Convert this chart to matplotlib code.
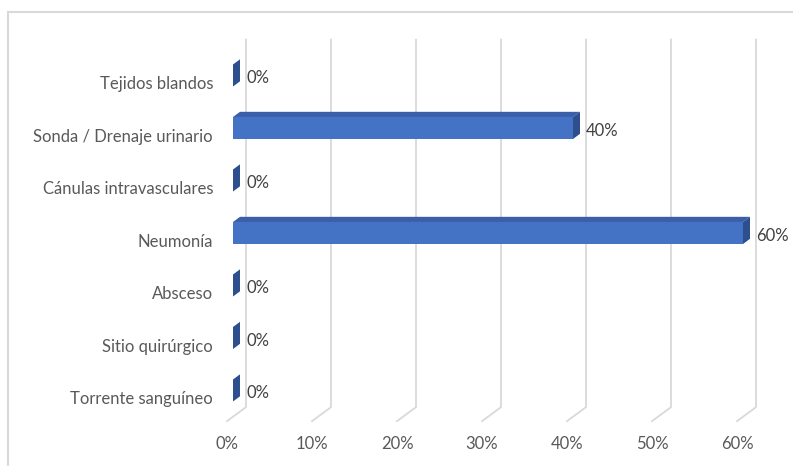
import matplotlib.pyplot as plt
from matplotlib.patches import Polygon, Rectangle
from matplotlib.transforms import ScaledTranslation

categorias = ["Torrente sanguíneo", "Sitio quirúrgico", "Absceso", "Neumonía",
              "Cánulas intravasculares", "Sonda / Drenaje urinario", "Tejidos blandos"]
valores = [0, 0, 0, 60, 0, 40, 0]
ticks = [0, 10, 20, 30, 40, 50, 60]
tick_labels = ["0%", "10%", "20%", "30%", "40%", "50%", "60%"]

plt.rcParams['font.family'] = ['Lato', 'DejaVu Sans']
W, H = 793, 466
fig = plt.figure(figsize=(W / 100, H / 100), dpi=100)

# axes in the floor-front plane (pixels measured on the reference)
x0, x1 = 227, 737
y_top, y_bot = 53.65, 421.15
ax = fig.add_axes([x0 / W, (H - y_bot) / H, (x1 - x0) / W, (y_bot - y_top) / H])
ax.set_xlim(0, 60)
ax.set_ylim(-0.5, 6.5)
ax.set_frame_on(False)

# depth of the 3d box in pixels -> data units
px_x = (x1 - x0) / 60
px_y = (y_bot - y_top) / 7
ddx = 19 / px_x
ddy = 14 / px_y
d0, d1 = 6 / 19, 13 / 19   # front / back of bars
h = 11 / px_y              # half bar height

def p(v, i, d):
    return (v + d * ddx, i + d * ddy)

grid_c = '#D9D9D9'
for t in ticks:
    xs = [p(t, 6.5, 1)[0], p(t, -0.5, 1)[0], p(t, -0.5, 0)[0]]
    ys = [p(t, 6.5, 1)[1], p(t, -0.5, 1)[1], p(t, -0.5, 0)[1]]
    ax.plot(xs, ys, color=grid_c, lw=1.3, clip_on=False, zorder=1)

front_c, top_c, side_c = '#4472C4', '#3A5FA8', '#2D4F8E'
for i, v in enumerate(valores):
    front = [p(0, i - h, d0), p(v, i - h, d0), p(v, i + h, d0), p(0, i + h, d0)]
    top = [p(0, i + h, d0), p(v, i + h, d0), p(v, i + h, d1), p(0, i + h, d1)]
    side = [p(v, i - h, d0), p(v, i - h, d1), p(v, i + h, d1), p(v, i + h, d0)]
    if v > 0:
        ax.add_patch(Polygon(front, closed=True, fc=front_c, ec='none', zorder=3, clip_on=False))
        ax.add_patch(Polygon(top, closed=True, fc=top_c, ec='none', zorder=3, clip_on=False))
    ax.add_patch(Polygon(side, closed=True, fc=side_c, ec='none', zorder=3, clip_on=False))
    lx, _ = p(v, i, d1)
    _, ly = p(v, i, d0)
    ax.annotate(f"{v}%", xy=(lx, ly), xytext=(6, -3), textcoords='offset pixels',
                ha='left', va='center', fontsize=12, color='#404040', zorder=4,
                annotation_clip=False)

ax.set_xticks(ticks)
ax.set_xticklabels(tick_labels)
ax.set_yticks(range(len(categorias)))
ax.set_yticklabels(categorias)
ax.tick_params(axis='both', length=0, labelsize=12, labelcolor='#595959')
ax.tick_params(axis='x', pad=11)
ax.tick_params(axis='y', pad=10)
shift = ScaledTranslation(0, -3 / 100, fig.dpi_scale_trans)
for lab in ax.get_yticklabels():
    lab.set_transform(lab.get_transform() + shift)

# chart border (right / bottom fall outside the picture)
fig.patches.append(Rectangle((8 / W, -0.1), 1.2, (H - 12) / H + 0.1, transform=fig.transFigure,
                             fill=False, ec='#D9D9D9', lw=1.5))

fig.savefig('out.png', dpi=100)
